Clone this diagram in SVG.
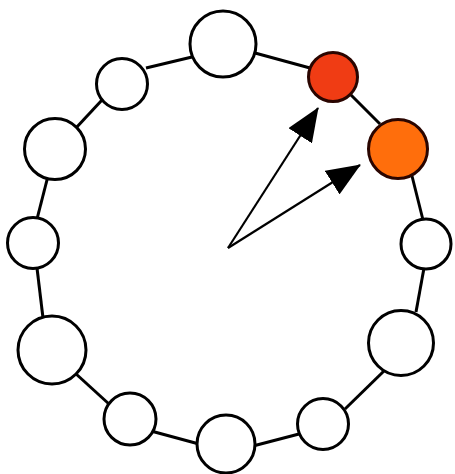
<svg xmlns="http://www.w3.org/2000/svg" width="455" height="474" viewBox="0 0 455 474">
<style>
.link{stroke:#000;stroke-width:3;fill:none}
.node{fill:#fff;stroke:#000;stroke-width:3}
.arrow{stroke:#000;stroke-width:2.2;fill:none;marker-end:url(#head)}
</style>
<defs>
<marker id="head" markerUnits="userSpaceOnUse" markerWidth="34" markerHeight="28" refX="33" refY="14" orient="auto">
<path d="M0,0 L34,14 L0,28 Z" fill="#000"/>
</marker>
</defs>
<rect width="455" height="474" fill="#fff"/>
<g id="connectors">
<line class="link" x1="146" y1="68" x2="192" y2="57"/>
<line class="link" x1="255" y1="53" x2="310" y2="68"/>
<line class="link" x1="351" y1="95" x2="380" y2="124"/>
<line class="link" x1="412" y1="176" x2="423" y2="220"/>
<line class="link" x1="424" y1="268" x2="416" y2="312"/>
<line class="link" x1="385" y1="370" x2="345" y2="409"/>
<line class="link" x1="299" y1="434" x2="253" y2="446"/>
<line class="link" x1="199" y1="444" x2="151" y2="431"/>
<line class="link" x1="109" y1="404" x2="75" y2="373"/>
<line class="link" x1="43" y1="318" x2="37" y2="268"/>
<line class="link" x1="37" y1="219" x2="48" y2="176"/>
<line class="link" x1="75" y1="129" x2="102" y2="100"/>
<line class="arrow" x1="228" y1="248" x2="318" y2="108"/>
<line class="arrow" x1="228" y1="248" x2="360" y2="165"/>
</g>
<g id="n1"><circle class="node" cx="223" cy="44" r="33"/></g>
<g id="n2"><circle class="node" cx="333" cy="77" r="24.5" fill="#f03c14" style="fill:#f03c14;stroke:#2a0500"/></g>
<g id="n3"><circle class="node" cx="398" cy="149" r="29.5" style="fill:#ff6e0c;stroke:#2a0500"/></g>
<g id="n4"><circle class="node" cx="426" cy="244" r="25"/></g>
<g id="n5"><circle class="node" cx="401" cy="343" r="32.5"/></g>
<g id="n6"><circle class="node" cx="323" cy="424" r="25.5"/></g>
<g id="n7"><circle class="node" cx="226" cy="444" r="29"/></g>
<g id="n8"><circle class="node" cx="130" cy="419" r="26"/></g>
<g id="n9"><circle class="node" cx="52" cy="350" r="34"/></g>
<g id="n10"><circle class="node" cx="33" cy="243" r="25.5"/></g>
<g id="n11"><circle class="node" cx="55" cy="149" r="30.5"/></g>
<g id="n12"><circle class="node" cx="122" cy="84" r="25.5"/></g>
</svg>
